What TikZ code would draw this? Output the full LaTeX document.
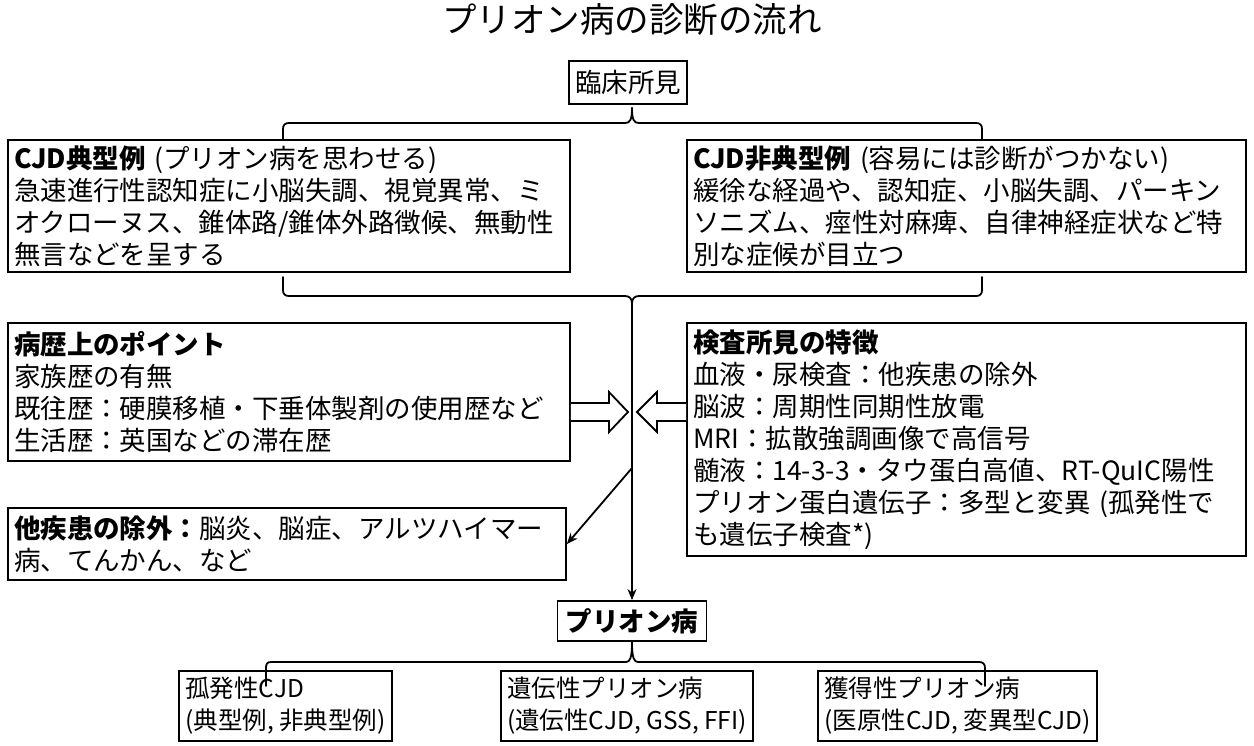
\documentclass[tikz,border=0pt]{standalone}
\usepackage{fontspec}
\setmainfont{Noto Sans CJK JP}
\usetikzlibrary{arrows.meta,calc}
\begin{document}
\begin{tikzpicture}[x=1pt,y=-1pt,
  box/.style={draw,line width=1.8pt,rectangle,inner xsep=6pt,inner ysep=0pt,
    align=left,font=\fontsize{26.5}{32}\selectfont},
  smallbox/.style={box,font=\fontsize{24.5}{32}\selectfont},
  conn/.style={line width=1.8pt,line cap=round,line join=round},
  arr/.style={conn,-{Stealth[length=11pt,width=9pt]}},
  blockarrow/.style={line width=1.8pt,fill=white,line join=miter}
]
\useasboundingbox (0,0) rectangle (1254,745);

% title
\node[font=\fontsize{34.5}{40}\selectfont] (title) at (632,20) {プリオン病の診断の流れ};

% clinical findings
\node[box,align=center,minimum width=117pt,minimum height=43pt] (clin) at (628,82.5) {臨床所見};

\node[box,text width=550pt,minimum height=132pt] (typ) at (289,206)
  {\textbf{CJD典型例} (プリオン病を思わせる)\\
   急速進行性認知症に小脳失調、視覚異常、ミ\\
   オクローヌス、錐体路/錐体外路徴候、無動性\\
   無言などを呈する};

\node[box,text width=547pt,minimum height=132pt] (atyp) at (966.5,206)
  {\textbf{CJD非典型例} (容易には診断がつかない)\\
   緩徐な経過や、認知症、小脳失調、パーキン\\
   ソニズム、痙性対麻痺、自律神経症状など特\\
   別な症候が目立つ};

\node[box,text width=550pt,minimum height=138pt] (hist) at (289,392)
  {\textbf{病歴上のポイント}\\
   家族歴の有無\\
   既往歴：硬膜移植・下垂体製剤の使用歴など\\
   生活歴：英国などの滞在歴};

\node[box,text width=547pt,minimum height=233pt] (exam) at (966.5,439.5)
  {\textbf{検査所見の特徴}\\
   血液・尿検査：他疾患の除外\\
   脳波：周期性同期性放電\\
   MRI：拡散強調画像で高信号\\
   髄液：14-3-3・タウ蛋白高値、RT-QuIC陽性\\
   プリオン蛋白遺伝子：多型と変異 (孤発性で\\
   も遺伝子検査*)};

\node[box,text width=546pt,minimum height=72pt] (excl) at (287,544)
  {\textbf{他疾患の除外：}脳炎、脳症、アルツハイマー\\
   病、てんかん、など};

\node[box,align=center,minimum width=149pt,minimum height=40pt,
  font=\fontsize{26.5}{32}\selectfont\bfseries] (prion) at (632,621) {プリオン病};

% disease types
\node[smallbox,minimum width=207pt,minimum height=70pt] (spor) at (285.5,706)
  {孤発性CJD\\(典型例, 非典型例)};
\node[smallbox,minimum width=228pt,minimum height=70pt] (gen) at (627,706)
  {遺伝性プリオン病\\(遺伝性CJD, GSS, FFI)};
\node[smallbox,minimum width=229pt,minimum height=70pt] (acq) at (957.5,706)
  {獲得性プリオン病\\(医原性CJD, 変異型CJD)};

% brace from clinical findings to the two presentations
\draw[conn] (typ.north -| 283,0) -- (283,129)
  .. controls (283,125) and (285,123) .. (289,123) -- (625,123)
  .. controls (630,123) and (632,120) .. (632,108);
\draw[conn] (atyp.north -| 982,0) -- (982,129)
  .. controls (982,125) and (980,123) .. (976,123) -- (639,123)
  .. controls (634,123) and (632,120) .. (632,108);

% brace gathering the two presentations
\draw[conn] (283,277) -- (283,290)
  .. controls (283,294) and (285,296) .. (289,296) -- (625,296)
  .. controls (630,296) and (632,299) .. (632,304);
\draw[conn] (982,277) -- (982,290)
  .. controls (982,294) and (980,296) .. (976,296) -- (639,296)
  .. controls (634,296) and (632,299) .. (632,304);

\coordinate (hub) at (632,300);
\coordinate (split) at (632,468);
\draw[arr] (hub) -- (prion.north);
\draw[arr] (split) -- (excl.east);

% block arrows into the main line
\draw[blockarrow] (hist.east |- 0,403) -- (609,403) -- (609,392) -- (628,412)
  -- (609,432) -- (609,421) -- (hist.east |- 0,421);
\draw[blockarrow] (exam.west |- 0,403) -- (657,403) -- (657,392) -- (637,412)
  -- (657,432) -- (657,421) -- (exam.west |- 0,421);

% brace to the three disease types
\draw[conn] (prion.south) .. controls (632,658) and (630,662) .. (626,662) -- (271,662)
  .. controls (267,662) and (266,664) .. (266,668) -- (266,686);
\draw[conn] (prion.south) .. controls (632,658) and (634,662) .. (638,662) -- (979,662)
  .. controls (983,662) and (985,664) .. (985,668) -- (985,686);
\end{tikzpicture}
\end{document}
